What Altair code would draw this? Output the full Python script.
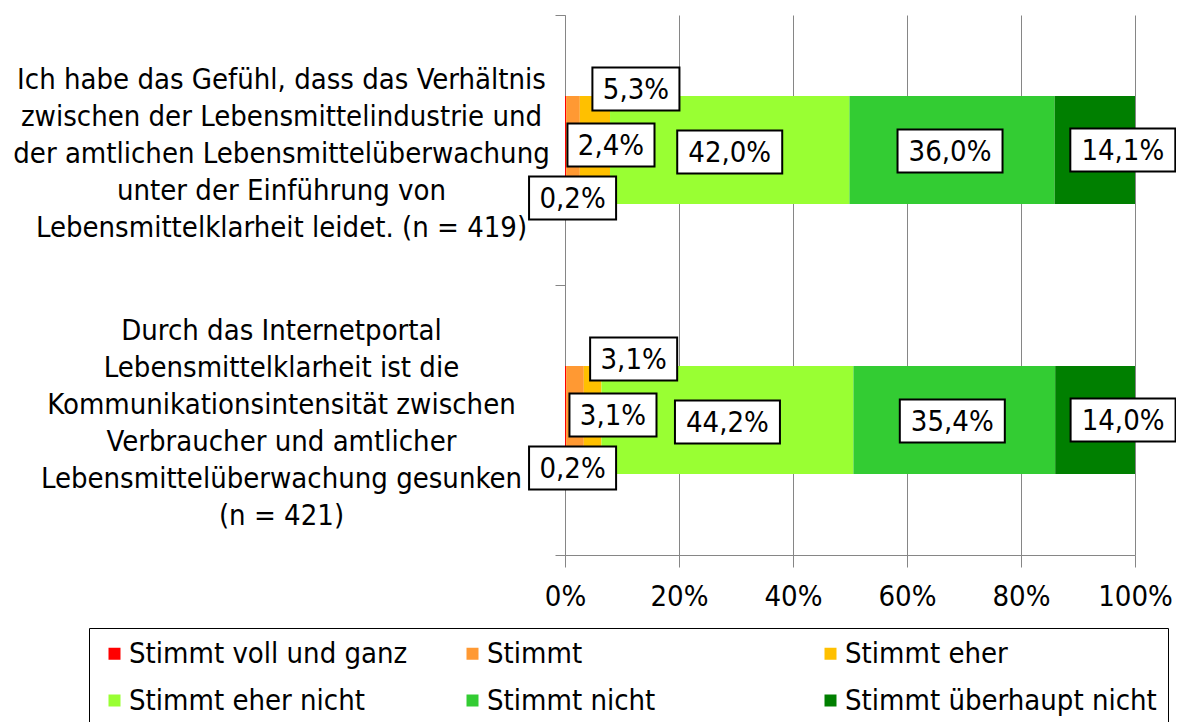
import altair as alt
import pandas as pd

questions = [
    "Ich habe das Gefühl, dass das Verhältnis\nzwischen der Lebensmittelindustrie und\nder amtlichen Lebensmittelüberwachung\nunter der Einführung von\nLebensmittelklarheit leidet. (n = 419)",
    "Durch das Internetportal\nLebensmittelklarheit ist die\nKommunikationsintensität zwischen\nVerbraucher und amtlicher\nLebensmittelüberwachung gesunken\n(n = 421)",
]
responses = [
    "Stimmt voll und ganz",
    "Stimmt",
    "Stimmt eher",
    "Stimmt eher nicht",
    "Stimmt nicht",
    "Stimmt überhaupt nicht",
]
values_q1 = [0.2, 2.4, 5.3, 42.0, 36.0, 14.1]
values_q2 = [0.2, 3.1, 3.1, 44.2, 35.4, 14.0]
colors = ["#FF0000", "#FF9933", "#FFC000", "#99FF33", "#33CC33", "#007F00"]
x_ticks = [0, 20, 40, 60, 80, 100]

FONT = "DejaVu Sans Condensed, Liberation Sans Narrow, DejaVu Sans, sans-serif"

rows = []
for q, vals in zip(questions, [values_q1, values_q2]):
    cum = 0.0
    for r, v in zip(responses, vals):
        lab = f"{v:.1f}".replace(".", ",") + "%"
        rows.append({
            "question": q,
            "response": r,
            "value": v,
            "start": cum,
            "end": cum + v,
            "mid": cum + v / 2,
            "label": lab,
            "nchars": str(len(lab)),
        })
        cum += v
df = pd.DataFrame(rows)

LINE_H = 37

y_enc = alt.Y(
    "question:N",
    sort=questions,
    scale=alt.Scale(paddingInner=0, paddingOuter=0),
    axis=alt.Axis(
        title=None,
        tickBand="extent",
        tickSize=10,
        tickColor="#868686",
        domainColor="#868686",
        labelAlign="center",
        labelBaseline="middle",
        labelPadding=274,
        labelLineHeight=LINE_H,
        labelLimit=1000,
        labelExpr="split(datum.label, '\\n')",
        labelOffset=alt.ExprRef(f"3 - (length(split(datum.value, '\\n')) - 1) * {LINE_H / 2}"),
        grid=False,
    ),
)

bars = alt.Chart(df).mark_bar(height={"band": 0.4}).encode(
    y=y_enc,
    x=alt.X(
        "start:Q",
        scale=alt.Scale(domain=[0, 100], nice=False),
        axis=alt.Axis(
            title=None,
            values=x_ticks,
            labelExpr="datum.value + '%'",
            labelFlush=False,
            grid=True,
            gridColor="#868686",
            domainColor="#868686",
            tickColor="#868686",
            tickSize=12,
            labelPadding=15,
        ),
    ),
    x2="end:Q",
    color=alt.Color(
        "response:N",
        sort=responses,
        scale=alt.Scale(domain=responses, range=colors),
        legend=alt.Legend(
            title=None,
            orient="none",
            direction="horizontal",
            legendX=-476,
            legendY=613,
            columns=3,
            gridAlign="all",
            columnPadding=17,
            rowPadding=17,
            padding=11,
            strokeColor="black",
            symbolType="square",
            symbolSize=144,
            symbolStrokeWidth=0,
            labelOffset=0,
            labelLimit=1000,
        ),
    ),
)

# label placement per answer category (pixel offsets relative to segment centre)
offsets = {
    "Stimmt voll und ganz": (7, 48),
    "Stimmt": (38, -5),
    "Stimmt eher": (41, -61),
    "Stimmt eher nicht": (0, 2),
    "Stimmt nicht": (-2, 1),
    "Stimmt überhaupt nicht": (28, 0),
}

box4 = "M-0.829,-0.41H0.829V0.41H-0.829Z"
box5 = "M-1,-0.41H1V0.41H-1Z"

layers = [bars]
for r in responses:
    dx, dy = offsets[r]
    base = alt.Chart(df).transform_filter(alt.datum.response == r)
    box = base.mark_point(
        filled=True, fill="white", stroke="black", strokeWidth=2, opacity=1,
        xOffset=dx, yOffset=dy,
    ).encode(
        y=alt.Y("question:N", sort=questions),
        x=alt.X("mid:Q"),
        shape=alt.Shape("nchars:N", scale=alt.Scale(domain=["4", "5"], range=[box4, box5]), legend=None),
        size=alt.value(11025),
    )
    txt = base.mark_text(
        font=FONT, fontSize=29, color="black", align="center", baseline="middle",
        xOffset=dx, yOffset=dy + 1,
    ).encode(
        y=alt.Y("question:N", sort=questions),
        x=alt.X("mid:Q"),
        text="label:N",
    )
    layers += [box, txt]

chart = alt.layer(*layers).properties(
    width=570,
    height=540,
    autosize=alt.AutoSizeParams(type="none"),
    padding={"left": 557, "top": 7, "right": 41, "bottom": 180},
).configure_view(stroke=None).configure_axis(
    labelFont=FONT, labelFontSize=29, labelColor="black",
).configure_legend(
    labelFont=FONT, labelFontSize=29, labelColor="black",
)

chart.save("out.html", embed_options={"renderer": "svg", "actions": False})
